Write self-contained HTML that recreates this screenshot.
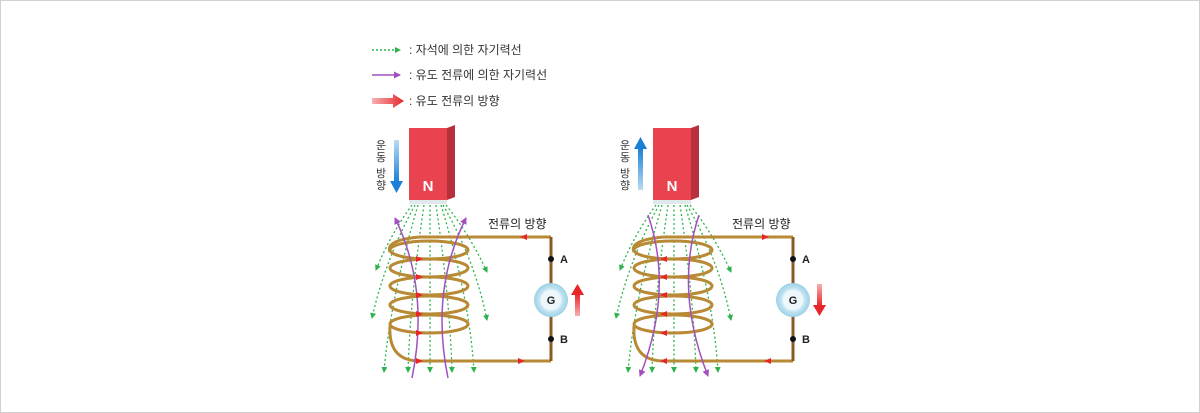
<!DOCTYPE html>
<html><head><meta charset="utf-8"><style>
html,body{margin:0;padding:0;background:#fff}
svg{display:block}
text{font-family:"Liberation Sans","Noto Sans CJK KR",sans-serif}
</style></head><body>
<svg width="1200" height="413" viewBox="0 0 1200 413" xmlns="http://www.w3.org/2000/svg">
<defs>
<marker id="g" markerWidth="6" markerHeight="6" refX="5" refY="3" orient="auto" markerUnits="userSpaceOnUse"><path d="M0,0 L6,3 L0,6z" fill="#2db34a"/></marker>
<marker id="p" markerWidth="7" markerHeight="7" refX="6" refY="3.5" orient="auto" markerUnits="userSpaceOnUse"><path d="M0,0 L7,3.5 L0,7z" fill="#a24fc0"/></marker>
<linearGradient id="rg" x1="0" x2="1"><stop offset="0" stop-color="#f7b0b0"/><stop offset="1" stop-color="#e8262a"/></linearGradient>
<linearGradient id="rgv" x1="0" y1="1" x2="0" y2="0"><stop offset="0" stop-color="#f7b0b0"/><stop offset="1" stop-color="#e8262a"/></linearGradient>
<linearGradient id="rgd" x1="0" y1="0" x2="0" y2="1"><stop offset="0" stop-color="#f7b0b0"/><stop offset="1" stop-color="#e8262a"/></linearGradient>
<linearGradient id="bd" x1="0" y1="0" x2="0" y2="1"><stop offset="0" stop-color="#b8dcf5"/><stop offset="1" stop-color="#1b7fd8"/></linearGradient>
<linearGradient id="bu" x1="0" y1="1" x2="0" y2="0"><stop offset="0" stop-color="#b8dcf5"/><stop offset="1" stop-color="#1b7fd8"/></linearGradient>
<radialGradient id="gc"><stop offset="0.55" stop-color="#eef8fc"/><stop offset="0.7" stop-color="#bfe3f1"/><stop offset="1" stop-color="#9fd1e6"/></radialGradient>
</defs>
<rect x="0.5" y="0.5" width="1199" height="412" fill="#fff" stroke="#d0d0d0"/>
<line x1="372" y1="50" x2="400" y2="50" stroke="#2db34a" stroke-width="1.5" stroke-dasharray="2,2" marker-end="url(#g)"/>
<text x="409" y="54" font-size="12" fill="#333">: 자석에 의한 자기력선</text>
<line x1="372" y1="75" x2="400" y2="75" stroke="#a24fc0" stroke-width="1.5" marker-end="url(#p)"/>
<text x="409" y="79" font-size="12" fill="#333">: 유도 전류에 의한 자기력선</text>
<path d="M372,98 L393,98 L393,94 L404,101 L393,108 L393,104 L372,104z" fill="url(#rg)"/>
<text x="409" y="105" font-size="12" fill="#333">: 유도 전류의 방향</text>

<!-- LEFT -->
<g>
<rect x="409" y="128" width="38" height="72" fill="#e8434f"/>
<path d="M447,128 L455,125 L455,197 L447,200z" fill="#b8303b"/>
<rect x="409" y="200" width="38" height="4" fill="#dfe9ec"/>
<text x="428" y="191" font-size="15" font-weight="bold" fill="#fff" text-anchor="middle">N</text>
<rect x="394" y="140" width="5" height="42" fill="url(#bd)"/>
<path d="M390,181 L403,181 L396.5,193z" fill="#1b7fd8"/>
<g font-size="11" fill="#333" text-anchor="middle">
<text x="381" y="149">운</text><text x="381" y="161">동</text><text x="381" y="177">방</text><text x="381" y="189">향</text>
</g>
<g fill="none" stroke="#2db34a" stroke-width="1.3" stroke-dasharray="2,2.5" marker-end="url(#g)">
<path d="M412,205 Q390,235 376,270"/>
<path d="M446,205 Q470,235 487,272"/>
<path d="M415,205 Q385,260 372,318"/>
<path d="M443,205 Q475,260 487,320"/>
<path d="M418,205 Q390,300 384,372"/>
<path d="M424,205 Q410,300 408,372"/>
<path d="M430,205 L430,372"/>
<path d="M436,205 Q450,300 452,372"/>
<path d="M441,205 Q470,300 474,372"/>
</g>
<g fill="none" stroke="#b98a35" stroke-width="3">
<path d="M551,237 L420,237 Q385,240 390,252"/>
<ellipse cx="429" cy="250" rx="39" ry="9"/>
<ellipse cx="429" cy="268" rx="39" ry="9"/>
<ellipse cx="429" cy="286" rx="39" ry="9"/>
<ellipse cx="429" cy="305" rx="39" ry="9"/>
<ellipse cx="429" cy="324" rx="39" ry="9"/>
<path d="M390,326 Q388,361 420,361 L551,361"/>
</g>
<path d="M551,237 L551,361" stroke="#8a5a24" stroke-width="3"/>
<g fill="none" stroke="#a24fc0" stroke-width="1.5" marker-end="url(#p)">
<path d="M412,378 Q430,290 395,218"/>
<path d="M448,378 Q430,290 466,218"/>
</g>
<g fill="#e8262a">
<path d="M527,234 L520,237 L527,240z"/>
<path d="M518,358 L525,361 L518,364z"/>
<path d="M416,256 L423,259 L416,262z"/><path d="M416,274 L423,277 L416,280z"/><path d="M416,292 L423,295 L416,298z"/><path d="M416,311 L423,314 L416,317z"/><path d="M416,330 L423,333 L416,336z"/><path d="M416,358 L423,361 L416,364z"/>
</g>
<circle cx="551" cy="259" r="3" fill="#111"/>
<circle cx="551" cy="339" r="3" fill="#111"/>
<text x="560" y="263" font-size="11" font-weight="bold" fill="#222">A</text>
<text x="560" y="343" font-size="11" font-weight="bold" fill="#222">B</text>
<circle cx="551" cy="300" r="17" fill="url(#gc)"/>
<text x="551" y="304" font-size="11" font-weight="bold" fill="#222" text-anchor="middle">G</text>
<rect x="575" y="294" width="5" height="22" fill="url(#rgv)"/>
<path d="M571,295 L584,295 L577.5,284z" fill="#e8262a"/>
<text x="488" y="228" font-size="12" fill="#222">전류의 방향</text>
</g>

<!-- RIGHT -->
<g transform="translate(244,0)">
<rect x="409" y="128" width="38" height="72" fill="#e8434f"/>
<path d="M447,128 L455,125 L455,197 L447,200z" fill="#b8303b"/>
<rect x="409" y="200" width="38" height="4" fill="#dfe9ec"/>
<text x="428" y="191" font-size="15" font-weight="bold" fill="#fff" text-anchor="middle">N</text>
<rect x="394" y="148" width="5" height="42" fill="url(#bu)"/>
<path d="M390,149 L403,149 L396.5,137z" fill="#1b7fd8"/>
<g font-size="11" fill="#333" text-anchor="middle">
<text x="381" y="149">운</text><text x="381" y="161">동</text><text x="381" y="177">방</text><text x="381" y="189">향</text>
</g>
<g fill="none" stroke="#2db34a" stroke-width="1.3" stroke-dasharray="2,2.5" marker-end="url(#g)">
<path d="M412,205 Q390,235 376,270"/>
<path d="M446,205 Q470,235 487,272"/>
<path d="M415,205 Q385,260 372,318"/>
<path d="M443,205 Q475,260 487,320"/>
<path d="M418,205 Q390,300 384,372"/>
<path d="M424,205 Q410,300 408,372"/>
<path d="M430,205 L430,372"/>
<path d="M436,205 Q450,300 452,372"/>
<path d="M441,205 Q470,300 474,372"/>
</g>
<g fill="none" stroke="#b98a35" stroke-width="3">
<path d="M549,237 L420,237 Q385,240 390,252"/>
<ellipse cx="429" cy="250" rx="39" ry="9"/>
<ellipse cx="429" cy="268" rx="39" ry="9"/>
<ellipse cx="429" cy="286" rx="39" ry="9"/>
<ellipse cx="429" cy="305" rx="39" ry="9"/>
<ellipse cx="429" cy="324" rx="39" ry="9"/>
<path d="M390,326 Q388,361 420,361 L549,361"/>
</g>
<path d="M549,237 L549,361" stroke="#8a5a24" stroke-width="3"/>
<g fill="none" stroke="#a24fc0" stroke-width="1.5" marker-end="url(#p)">
<path d="M404,215 Q430,290 396,376"/>
<path d="M455,215 Q430,290 464,376"/>
</g>
<g fill="#e8262a">
<path d="M518,234 L525,237 L518,240z"/>
<path d="M527,358 L520,361 L527,364z"/>
<path d="M423,256 L416,259 L423,262z"/><path d="M423,274 L416,277 L423,280z"/><path d="M423,292 L416,295 L423,298z"/><path d="M423,311 L416,314 L423,317z"/><path d="M423,330 L416,333 L423,336z"/><path d="M423,358 L416,361 L423,364z"/>
</g>
<circle cx="549" cy="259" r="3" fill="#111"/>
<circle cx="549" cy="339" r="3" fill="#111"/>
<text x="558" y="263" font-size="11" font-weight="bold" fill="#222">A</text>
<text x="558" y="343" font-size="11" font-weight="bold" fill="#222">B</text>
<circle cx="549" cy="300" r="17" fill="url(#gc)"/>
<text x="549" y="304" font-size="11" font-weight="bold" fill="#222" text-anchor="middle">G</text>
<rect x="573" y="284" width="5" height="22" fill="url(#rgd)"/>
<path d="M569,305 L582,305 L575.5,316z" fill="#e8262a"/>
<text x="488" y="228" font-size="12" fill="#222">전류의 방향</text>
</g>
</svg>
</body></html>
